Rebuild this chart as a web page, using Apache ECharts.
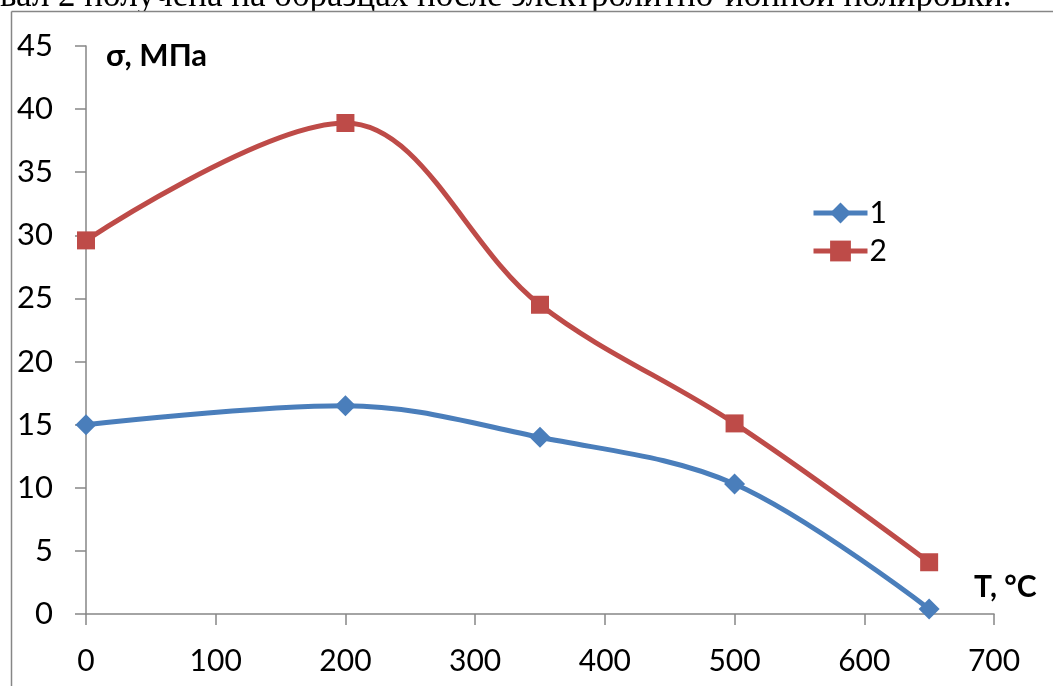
<!DOCTYPE html>
<html>
<head>
<meta charset="utf-8">
<script src="https://cdn.jsdelivr.net/npm/echarts@6/dist/echarts.min.js"></script>
<style>
html,body{margin:0;padding:0;background:#fff;}
#c{width:1053px;height:686px;}
</style>
</head>
<body>
<div id="c"></div>
<script>
const temps = [0, 200, 350, 500, 650];
const series1 = [15.0, 16.5, 14.0, 10.3, 0.4];
const series2 = [29.6, 38.9, 24.5, 15.1, 4.1];
const seriesNames = ['1', '2'];
const xTicks = [0, 100, 200, 300, 400, 500, 600, 700];
const yTicks = [0, 5, 10, 15, 20, 25, 30, 35, 40, 45];
const yName = 'σ, МПа';
const xName = 'T, °C';
const captionText = 'вал 2 получена на образцах после электролитно-ионной полировки.';

const chart = echarts.init(document.getElementById('c'));
const font = 'Lato, "Open Sans", sans-serif';
const axisColor = '#868686';
const pair = (xs, ys) => xs.map((x, i) => [x, ys[i]]);

chart.setOption({
  animation: false,
  backgroundColor: '#fff',
  grid: { left: 86, top: 46, right: 59, bottom: 72, containLabel: false },
  xAxis: {
    type: 'value', min: xTicks[0], max: xTicks[xTicks.length - 1], interval: 100,
    axisLine: { show: true, lineStyle: { color: axisColor, width: 1.5 } },
    axisTick: { show: true, length: 11, lineStyle: { color: axisColor, width: 1.5 } },
    splitLine: { show: false },
    axisLabel: { fontFamily: font, fontSize: 30, color: '#000', margin: 32 }
  },
  yAxis: {
    type: 'value', min: yTicks[0], max: yTicks[yTicks.length - 1], interval: 5,
    axisLine: { show: true, lineStyle: { color: axisColor, width: 1.5 } },
    axisTick: { show: true, length: 11, lineStyle: { color: axisColor, width: 1.5 } },
    splitLine: { show: false },
    axisLabel: { fontFamily: font, fontSize: 31, color: '#000', margin: 33 }
  },
  legend: {
    orient: 'vertical', left: 806, top: 193, itemWidth: 54, itemHeight: 26, itemGap: 8,
    lineStyle: { width: 5 },
    textStyle: { fontFamily: font, fontSize: 30, color: '#000', padding: [0, 0, 0, -3] },
    data: seriesNames
  },
  series: [
    {
      name: seriesNames[0], type: 'line', smooth: 0.35, data: pair(temps, series1),
      symbol: 'diamond', symbolSize: 21,
      lineStyle: { color: '#4A7EBB', width: 5 },
      itemStyle: { color: '#4A7EBB' }
    },
    {
      name: seriesNames[1], type: 'line', smooth: 0.35, data: pair(temps, series2),
      symbol: 'rect', symbolSize: 18,
      lineStyle: { color: '#BE4B48', width: 5 },
      itemStyle: { color: '#BE4B48' }
    }
  ],
  graphic: [
    { type: 'text', x: 0, y: 14, style: { text: captionText, font: '35px "Liberation Serif", serif', fill: '#000', verticalAlign: 'bottom' } },
    { type: 'rect', shape: { x: 0, y: 11, width: 1053, height: 30 }, style: { fill: '#fff' } },
    { type: 'line', shape: { x1: 11.5, y1: 11.5, x2: 1053, y2: 11.5 }, style: { stroke: axisColor, lineWidth: 1.5 } },
    { type: 'line', shape: { x1: 11.5, y1: 11.5, x2: 11.5, y2: 686 }, style: { stroke: axisColor, lineWidth: 1.5 } },
    { type: 'text', x: 106, y: 40, style: { text: yName, font: 'bold 31px ' + font, fill: '#000' } },
    { type: 'text', x: 974, y: 572, style: { text: xName, font: 'bold 30px ' + font, fill: '#000' } }
  ]
});
</script>
</body>
</html>
